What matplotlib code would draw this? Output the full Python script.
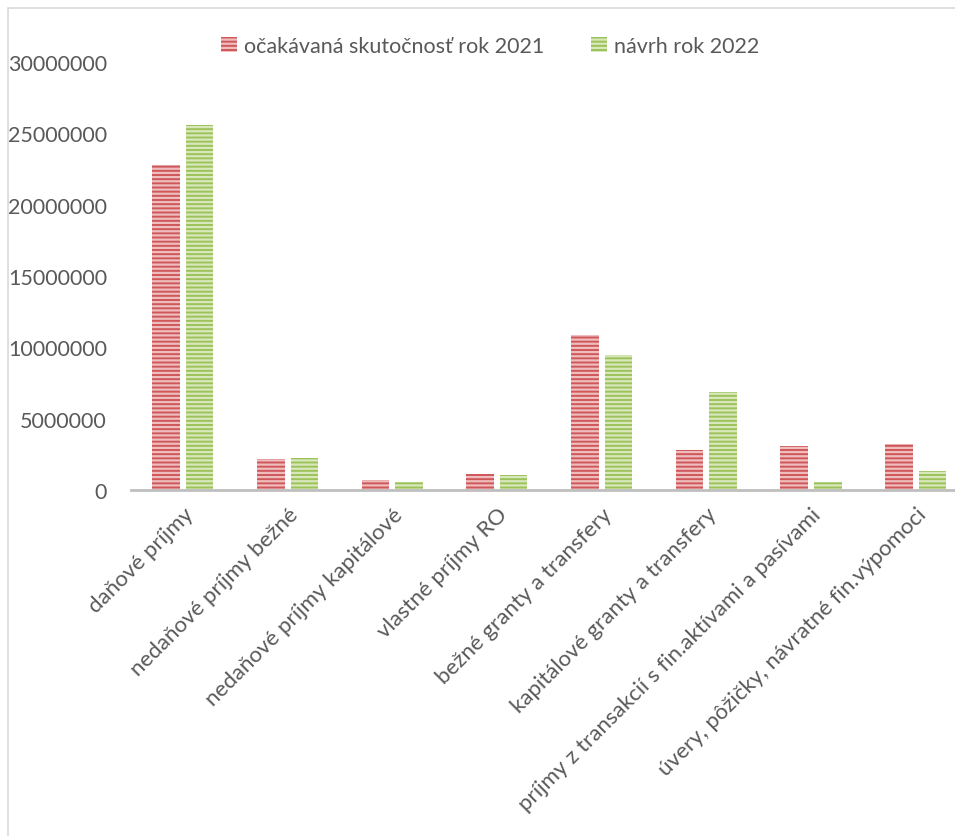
import matplotlib.pyplot as plt
import matplotlib.patches as mpatches
import matplotlib.transforms as mtransforms
import numpy as np

plt.rcParams['font.family'] = ['Lato', 'DejaVu Sans']
plt.rcParams['hatch.linewidth'] = 1.6

categories = ['daňové príjmy', 'nedaňové príjmy bežné', 'nedaňové príjmy kapitálové',
              'vlastné príjmy RO', 'bežné granty a transfery', 'kapitálové granty a transfery',
              'príjmy z transakcií s fin.aktívami a pasívami', 'úvery, pôžičky, návratné fin.výpomoci']
expected_2021 = [22750000, 2170000, 700000, 1120000, 10860000, 2800000, 3080000, 3220000]
proposal_2022 = [25550000, 2240000, 560000, 1050000, 9440000, 6870000, 560000, 1330000]
series_names = ['očakávaná skutočnosť rok 2021', 'návrh rok 2022']

text_col = '#595959'
red, red_stripe = '#CF5759', '#F0BDBE'
green, green_stripe = '#9CC25A', '#D9E8BC'

fig = plt.figure(figsize=(9.55, 8.37), dpi=100)
W, H = 955, 837

# chart border (clipped at right and bottom like the screenshot)
fig.patches.append(mpatches.Rectangle((8 / W, -0.1), 1.2, 1 - 9 / H + 0.1,
                                      transform=fig.transFigure, fill=False,
                                      edgecolor='#D9D9D9', linewidth=1.2))

ax = fig.add_axes([130.6 / W, 1 - 491 / H, (968 - 130.6) / W, 428 / H])
x = np.arange(len(categories))
w = 0.263
off = 0.16
ax.bar(x - off, expected_2021, w, color=red, edgecolor=red_stripe, linewidth=0, hatch='----')
ax.bar(x + off, proposal_2022, w, color=green, edgecolor=green_stripe, linewidth=0, hatch='----')

ax.set_xlim(-0.5, len(categories) - 0.5)
ax.set_ylim(0, 30000000)
ax.set_yticks(np.arange(0, 30000001, 5000000))
ax.set_yticklabels([str(v) for v in range(0, 30000001, 5000000)])
ax.set_xticks(x)
ax.set_xticklabels(categories, rotation=45, ha='right', rotation_mode='anchor')
shift = mtransforms.ScaledTranslation(4 / 72, -4 / 72, fig.dpi_scale_trans)
for lbl in ax.get_xticklabels():
    lbl.set_transform(lbl.get_transform() + shift)

for s in ['top', 'right', 'left']:
    ax.spines[s].set_visible(False)
ax.spines['bottom'].set_color('#BFBFBF')
ax.spines['bottom'].set_linewidth(2.0)
ax.tick_params(axis='y', length=0, pad=17, labelsize=15.5, labelcolor=text_col)
ax.tick_params(axis='x', length=0, pad=10, labelsize=16, labelcolor=text_col)

h1 = mpatches.Patch(facecolor=red, edgecolor=red_stripe, linewidth=0, hatch='----')
h2 = mpatches.Patch(facecolor=green, edgecolor=green_stripe, linewidth=0, hatch='----')
fig.legend([h1, h2], series_names, loc='center', bbox_to_anchor=(490 / W, 1 - 47 / H),
           ncol=2, frameon=False, fontsize=15.5, labelcolor=text_col,
           handlelength=0.75, handleheight=0.75, handletextpad=0.3, columnspacing=2.2)

fig.savefig('out.png', dpi=100)
